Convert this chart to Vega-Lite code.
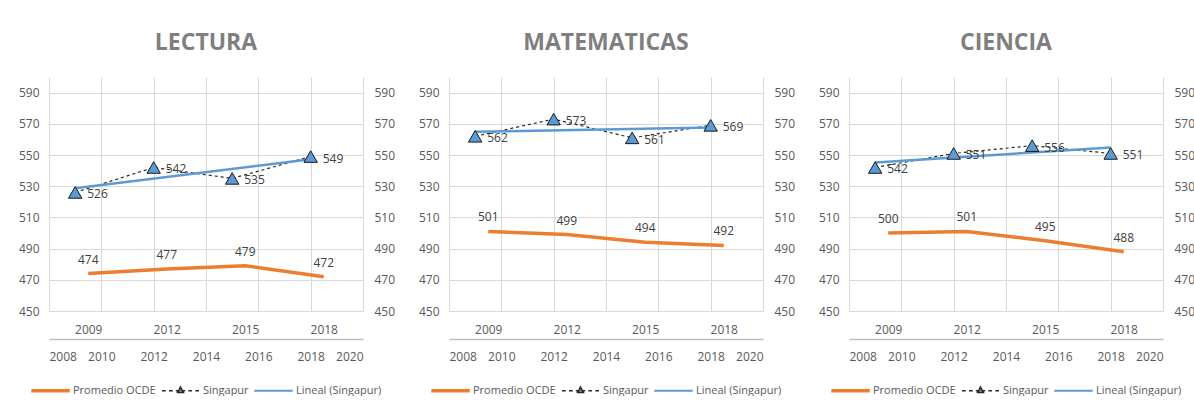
{
  "$schema": "https://vega.github.io/schema/vega-lite/v6.json",
  "padding": {"left": 18, "top": 32, "right": 0, "bottom": 0},
  "background": "#ffffff",
  "data": {"values": [
    {"materia": "LECTURA", "serie": "Promedio OCDE", "anio": 2009, "puntaje": 474},
    {"materia": "LECTURA", "serie": "Promedio OCDE", "anio": 2012, "puntaje": 477},
    {"materia": "LECTURA", "serie": "Promedio OCDE", "anio": 2015, "puntaje": 479},
    {"materia": "LECTURA", "serie": "Promedio OCDE", "anio": 2018, "puntaje": 472},
    {"materia": "LECTURA", "serie": "Singapur", "anio": 2009, "puntaje": 526},
    {"materia": "LECTURA", "serie": "Singapur", "anio": 2012, "puntaje": 542},
    {"materia": "LECTURA", "serie": "Singapur", "anio": 2015, "puntaje": 535},
    {"materia": "LECTURA", "serie": "Singapur", "anio": 2018, "puntaje": 549},
    {"materia": "MATEMATICAS", "serie": "Promedio OCDE", "anio": 2009, "puntaje": 501},
    {"materia": "MATEMATICAS", "serie": "Promedio OCDE", "anio": 2012, "puntaje": 499},
    {"materia": "MATEMATICAS", "serie": "Promedio OCDE", "anio": 2015, "puntaje": 494},
    {"materia": "MATEMATICAS", "serie": "Promedio OCDE", "anio": 2018, "puntaje": 492},
    {"materia": "MATEMATICAS", "serie": "Singapur", "anio": 2009, "puntaje": 562},
    {"materia": "MATEMATICAS", "serie": "Singapur", "anio": 2012, "puntaje": 573},
    {"materia": "MATEMATICAS", "serie": "Singapur", "anio": 2015, "puntaje": 561},
    {"materia": "MATEMATICAS", "serie": "Singapur", "anio": 2018, "puntaje": 569},
    {"materia": "CIENCIA", "serie": "Promedio OCDE", "anio": 2009, "puntaje": 500},
    {"materia": "CIENCIA", "serie": "Promedio OCDE", "anio": 2012, "puntaje": 501},
    {"materia": "CIENCIA", "serie": "Promedio OCDE", "anio": 2015, "puntaje": 495},
    {"materia": "CIENCIA", "serie": "Promedio OCDE", "anio": 2018, "puntaje": 488},
    {"materia": "CIENCIA", "serie": "Singapur", "anio": 2009, "puntaje": 542},
    {"materia": "CIENCIA", "serie": "Singapur", "anio": 2012, "puntaje": 551},
    {"materia": "CIENCIA", "serie": "Singapur", "anio": 2015, "puntaje": 556},
    {"materia": "CIENCIA", "serie": "Singapur", "anio": 2018, "puntaje": 551}
  ]},
  "spacing": 23,
  "resolve": {"scale": {"color": "independent"}, "legend": {"color": "independent"}},
  "hconcat": [
    {
      "title": {"text": "LECTURA"},
      "width": 314, "height": 234,
      "transform": [{"filter": "datum.materia === 'LECTURA'"}],
      "layer": [
        {
          "transform": [{"filter": "datum.serie === 'Promedio OCDE'"}],
          "encoding": {
            "x": {"field": "anio", "type": "ordinal", "scale": {"type": "point", "padding": 0.5}, "axis": {"orient": "bottom", "title": null, "labelAngle": 0, "ticks": false, "tickSize": 0, "labelPadding": 13, "domainColor": "#d9d9d9", "grid": false}},
            "y": {"field": "puntaje", "type": "quantitative", "scale": {"domain": [450, 600], "nice": false, "zero": false}, "axis": {"orient": "left", "values": [450, 470, 490, 510, 530, 550, 570, 590], "title": null, "domain": false, "ticks": false, "tickSize": 0, "labelPadding": 10, "grid": true}}
          },
          "layer": [
            {"mark": {"type": "line", "strokeWidth": 3.5}, "encoding": {"color": {"field": "serie", "type": "nominal", "scale": {"domain": ["Promedio OCDE", "Singapur", "Lineal (Singapur)"], "range": ["#ed7d31", "#262626", "#5b9bd5"]}, "legend": {"orient": "bottom", "direction": "horizontal", "title": null, "symbolType": "stroke", "symbolSize": 1369, "symbolStrokeWidth": 1.5, "labelOffset": 3, "columnPadding": 3, "offset": 9, "encode": {"symbols": {"update": {"shape": {"signal": "datum.value === 'Singapur' ? 'M-1,0H-0.8M-0.62,0H-0.42M-0.25,0H-0.12M0.12,0H0.25M0.42,0H0.62M0.8,0H1M0,-0.2L0.16,0.1L-0.16,0.1Z' : datum.value === 'Promedio OCDE' ? 'M-1,-0.06H1V0.06H-1Z' : 'M-1,-0.015H1V0.015H-1Z'"}, "fill": {"signal": "datum.value === 'Singapur' ? '#5b9bd5' : datum.value === 'Promedio OCDE' ? '#ed7d31' : '#5b9bd5'"}}}}}}}},
            {"mark": {"type": "text", "dy": -14, "color": "#404040", "fontSize": 12, "font": "Open Sans"}, "encoding": {"text": {"field": "puntaje", "type": "quantitative"}}}
          ]
        },
        {
          "transform": [{"filter": "datum.serie === 'Singapur'"}],
          "encoding": {
            "x": {"field": "anio", "type": "quantitative", "scale": {"domain": [2008, 2020], "nice": false, "zero": false}, "axis": {"orient": "bottom", "offset": 28, "values": [2008, 2010, 2012, 2014, 2016, 2018, 2020], "format": "d", "title": null, "ticks": false, "tickSize": 0, "labelPadding": 12, "domainColor": "#bfbfbf", "domainWidth": 1.5, "grid": true}},
            "y": {"field": "puntaje", "type": "quantitative", "scale": {"domain": [450, 600], "nice": false, "zero": false}, "axis": {"orient": "right", "values": [450, 470, 490, 510, 530, 550, 570, 590], "title": null, "domain": false, "ticks": false, "tickSize": 0, "labelPadding": 11, "grid": false}}
          },
          "layer": [
            {"mark": {"type": "line", "strokeWidth": 1.2, "strokeDash": [3, 3]}, "encoding": {"color": {"field": "serie", "type": "nominal"}}},
            {"transform": [{"regression": "puntaje", "on": "anio"}], "mark": {"type": "line", "color": "#5b9bd5", "strokeWidth": 2.5}, "encoding": {}},
            {"mark": {"type": "point", "shape": "triangle-up", "filled": true, "fill": "#5b9bd5", "stroke": "#1a1a1a", "strokeWidth": 1, "size": 180, "opacity": 1}, "encoding": {}},
            {"mark": {"type": "text", "align": "left", "dx": 12, "dy": 2, "color": "#404040", "fontSize": 12, "font": "Open Sans"}, "encoding": {"text": {"field": "puntaje", "type": "quantitative"}}}
          ]
        }
      ],
      "resolve": {"scale": {"x": "independent"}, "axis": {"x": "independent", "y": "independent"}}
    },
    {
      "title": {"text": "MATEMATICAS"},
      "width": 314, "height": 234,
      "transform": [{"filter": "datum.materia === 'MATEMATICAS'"}],
      "layer": [
        {
          "transform": [{"filter": "datum.serie === 'Promedio OCDE'"}],
          "encoding": {
            "x": {"field": "anio", "type": "ordinal", "scale": {"type": "point", "padding": 0.5}, "axis": {"orient": "bottom", "title": null, "labelAngle": 0, "ticks": false, "tickSize": 0, "labelPadding": 13, "domainColor": "#d9d9d9", "grid": false}},
            "y": {"field": "puntaje", "type": "quantitative", "scale": {"domain": [450, 600], "nice": false, "zero": false}, "axis": {"orient": "left", "values": [450, 470, 490, 510, 530, 550, 570, 590], "title": null, "domain": false, "ticks": false, "tickSize": 0, "labelPadding": 10, "grid": true}}
          },
          "layer": [
            {"mark": {"type": "line", "strokeWidth": 3.5}, "encoding": {"color": {"field": "serie", "type": "nominal", "scale": {"domain": ["Promedio OCDE", "Singapur", "Lineal (Singapur)"], "range": ["#ed7d31", "#262626", "#5b9bd5"]}, "legend": {"orient": "bottom", "direction": "horizontal", "title": null, "symbolType": "stroke", "symbolSize": 1369, "symbolStrokeWidth": 1.5, "labelOffset": 3, "columnPadding": 3, "offset": 9, "encode": {"symbols": {"update": {"shape": {"signal": "datum.value === 'Singapur' ? 'M-1,0H-0.8M-0.62,0H-0.42M-0.25,0H-0.12M0.12,0H0.25M0.42,0H0.62M0.8,0H1M0,-0.2L0.16,0.1L-0.16,0.1Z' : datum.value === 'Promedio OCDE' ? 'M-1,-0.06H1V0.06H-1Z' : 'M-1,-0.015H1V0.015H-1Z'"}, "fill": {"signal": "datum.value === 'Singapur' ? '#5b9bd5' : datum.value === 'Promedio OCDE' ? '#ed7d31' : '#5b9bd5'"}}}}}}}},
            {"mark": {"type": "text", "dy": -14, "color": "#404040", "fontSize": 12, "font": "Open Sans"}, "encoding": {"text": {"field": "puntaje", "type": "quantitative"}}}
          ]
        },
        {
          "transform": [{"filter": "datum.serie === 'Singapur'"}],
          "encoding": {
            "x": {"field": "anio", "type": "quantitative", "scale": {"domain": [2008, 2020], "nice": false, "zero": false}, "axis": {"orient": "bottom", "offset": 28, "values": [2008, 2010, 2012, 2014, 2016, 2018, 2020], "format": "d", "title": null, "ticks": false, "tickSize": 0, "labelPadding": 12, "domainColor": "#bfbfbf", "domainWidth": 1.5, "grid": true}},
            "y": {"field": "puntaje", "type": "quantitative", "scale": {"domain": [450, 600], "nice": false, "zero": false}, "axis": {"orient": "right", "values": [450, 470, 490, 510, 530, 550, 570, 590], "title": null, "domain": false, "ticks": false, "tickSize": 0, "labelPadding": 11, "grid": false}}
          },
          "layer": [
            {"mark": {"type": "line", "strokeWidth": 1.2, "strokeDash": [3, 3]}, "encoding": {"color": {"field": "serie", "type": "nominal"}}},
            {"transform": [{"regression": "puntaje", "on": "anio"}], "mark": {"type": "line", "color": "#5b9bd5", "strokeWidth": 2.5}, "encoding": {}},
            {"mark": {"type": "point", "shape": "triangle-up", "filled": true, "fill": "#5b9bd5", "stroke": "#1a1a1a", "strokeWidth": 1, "size": 180, "opacity": 1}, "encoding": {}},
            {"mark": {"type": "text", "align": "left", "dx": 12, "dy": 2, "color": "#404040", "fontSize": 12, "font": "Open Sans"}, "encoding": {"text": {"field": "puntaje", "type": "quantitative"}}}
          ]
        }
      ],
      "resolve": {"scale": {"x": "independent"}, "axis": {"x": "independent", "y": "independent"}}
    },
    {
      "title": {"text": "CIENCIA"},
      "width": 314, "height": 234,
      "transform": [{"filter": "datum.materia === 'CIENCIA'"}],
      "layer": [
        {
          "transform": [{"filter": "datum.serie === 'Promedio OCDE'"}],
          "encoding": {
            "x": {"field": "anio", "type": "ordinal", "scale": {"type": "point", "padding": 0.5}, "axis": {"orient": "bottom", "title": null, "labelAngle": 0, "ticks": false, "tickSize": 0, "labelPadding": 13, "domainColor": "#d9d9d9", "grid": false}},
            "y": {"field": "puntaje", "type": "quantitative", "scale": {"domain": [450, 600], "nice": false, "zero": false}, "axis": {"orient": "left", "values": [450, 470, 490, 510, 530, 550, 570, 590], "title": null, "domain": false, "ticks": false, "tickSize": 0, "labelPadding": 10, "grid": true}}
          },
          "layer": [
            {"mark": {"type": "line", "strokeWidth": 3.5}, "encoding": {"color": {"field": "serie", "type": "nominal", "scale": {"domain": ["Promedio OCDE", "Singapur", "Lineal (Singapur)"], "range": ["#ed7d31", "#262626", "#5b9bd5"]}, "legend": {"orient": "bottom", "direction": "horizontal", "title": null, "symbolType": "stroke", "symbolSize": 1369, "symbolStrokeWidth": 1.5, "labelOffset": 3, "columnPadding": 3, "offset": 9, "encode": {"symbols": {"update": {"shape": {"signal": "datum.value === 'Singapur' ? 'M-1,0H-0.8M-0.62,0H-0.42M-0.25,0H-0.12M0.12,0H0.25M0.42,0H0.62M0.8,0H1M0,-0.2L0.16,0.1L-0.16,0.1Z' : datum.value === 'Promedio OCDE' ? 'M-1,-0.06H1V0.06H-1Z' : 'M-1,-0.015H1V0.015H-1Z'"}, "fill": {"signal": "datum.value === 'Singapur' ? '#5b9bd5' : datum.value === 'Promedio OCDE' ? '#ed7d31' : '#5b9bd5'"}}}}}}}},
            {"mark": {"type": "text", "dy": -14, "color": "#404040", "fontSize": 12, "font": "Open Sans"}, "encoding": {"text": {"field": "puntaje", "type": "quantitative"}}}
          ]
        },
        {
          "transform": [{"filter": "datum.serie === 'Singapur'"}],
          "encoding": {
            "x": {"field": "anio", "type": "quantitative", "scale": {"domain": [2008, 2020], "nice": false, "zero": false}, "axis": {"orient": "bottom", "offset": 28, "values": [2008, 2010, 2012, 2014, 2016, 2018, 2020], "format": "d", "title": null, "ticks": false, "tickSize": 0, "labelPadding": 12, "domainColor": "#bfbfbf", "domainWidth": 1.5, "grid": true}},
            "y": {"field": "puntaje", "type": "quantitative", "scale": {"domain": [450, 600], "nice": false, "zero": false}, "axis": {"orient": "right", "values": [450, 470, 490, 510, 530, 550, 570, 590], "title": null, "domain": false, "ticks": false, "tickSize": 0, "labelPadding": 11, "grid": false}}
          },
          "layer": [
            {"mark": {"type": "line", "strokeWidth": 1.2, "strokeDash": [3, 3]}, "encoding": {"color": {"field": "serie", "type": "nominal"}}},
            {"transform": [{"regression": "puntaje", "on": "anio"}], "mark": {"type": "line", "color": "#5b9bd5", "strokeWidth": 2.5}, "encoding": {}},
            {"mark": {"type": "point", "shape": "triangle-up", "filled": true, "fill": "#5b9bd5", "stroke": "#1a1a1a", "strokeWidth": 1, "size": 180, "opacity": 1}, "encoding": {}},
            {"mark": {"type": "text", "align": "left", "dx": 12, "dy": 2, "color": "#404040", "fontSize": 12, "font": "Open Sans"}, "encoding": {"text": {"field": "puntaje", "type": "quantitative"}}}
          ]
        }
      ],
      "resolve": {"scale": {"x": "independent"}, "axis": {"x": "independent", "y": "independent"}}
    }
  ],
  "config": {
    "view": {"stroke": null},
    "font": "Open Sans",
    "title": {"font": "Open Sans", "fontSize": 23, "fontWeight": "bold", "color": "#7f7f7f", "anchor": "middle", "offset": 22},
    "axis": {"labelFont": "Open Sans", "labelFontSize": 12, "labelColor": "#595959", "gridColor": "#d9d9d9", "gridWidth": 1},
    "legend": {"labelFont": "Open Sans", "labelFontSize": 11, "labelColor": "#595959", "layout": {"bottom": {"anchor": "middle"}}}
  }
}
